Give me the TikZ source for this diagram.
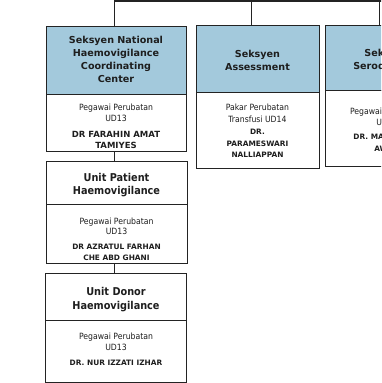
\documentclass[tikz,border=0pt]{standalone}
\usepackage{fontspec}
\setmainfont{DejaVu Sans}
\newfontfamily\condf{DejaVu Sans Condensed}
\definecolor{hdrblue}{RGB}{163,201,220}
\definecolor{ln}{RGB}{35,35,35}
\definecolor{txt}{RGB}{30,30,30}
\newcommand\namefont{\rmfamily\bfseries\fontsize{7.4}{11}\selectfont}
\newcommand\bignamefont{\rmfamily\bfseries\fontsize{8.5}{11}\selectfont}
\begin{document}
\begin{tikzpicture}[x=1pt,y=-1pt,
 box/.style={draw=ln, line width=1.4pt, anchor=north west, inner sep=0pt},
 hdr/.style={box, fill=hdrblue},
 bodybox/.style={box, fill=white},
 lbl/.style={inner sep=0pt, anchor=center, align=center, text=txt},
 hdrtext/.style={lbl, font=\bfseries\fontsize{9.6}{13}\selectfont},
 utext/.style={lbl, font=\condf\bfseries\fontsize{10.8}{13.3}\selectfont},
 btext/.style={lbl, font=\condf\fontsize{8.6}{11}\selectfont},
 wire/.style={draw=ln, line width=1.4pt}]
\useasboundingbox (0,0) rectangle (381,383);
\clip (0,0) rectangle (381,383);
\coordinate (topR) at (383,1);
% box outlines
\node[hdr, minimum width=140, minimum height=68] (h1) at (46,26) {};
\node[bodybox, minimum width=140, minimum height=57] (b1) at (46,94) {};
\node[hdr, minimum width=123, minimum height=67] (h2) at (196,25) {};
\node[bodybox, minimum width=123, minimum height=76] (b2) at (196,92) {};
\node[hdr, minimum width=124, minimum height=65] (h3) at (325,25) {};
\node[bodybox, minimum width=124, minimum height=76] (b3) at (325,90) {};
\node[bodybox, minimum width=141, minimum height=43] (h4) at (46,161) {};
\node[bodybox, minimum width=141, minimum height=59] (b4) at (46,204) {};
\node[bodybox, minimum width=141, minimum height=47] (h5) at (45,273) {};
\node[bodybox, minimum width=141, minimum height=62] (b5) at (45,320) {};
% texts
\node[hdrtext] (th1) at (116,59.5) {Seksyen National\\Haemovigilance\\Coordinating\\Center};
\node[btext] (tb1) at (116,126)
  {Pegawai Perubatan\\UD13\\[5pt]{\bignamefont DR FARAHIN AMAT}\\{\bignamefont TAMIYES}};
\node[hdrtext] (th2) at (257.5,60.5) {Seksyen\\Assessment};
\node[btext, font=\condf\fontsize{8.6}{11.8}\selectfont] (tb2) at (257.5,131)
  {Pakar Perubatan\\Transfusi UD14\\{\namefont DR.}\\{\namefont PARAMESWARI}\\{\namefont NALLIAPPAN}};
\node[hdrtext] (th3) at (387,60.5) {Seksyen\\Serod\phantom{iagnos}};
\node[btext] (tb3) at (387,129.5)
  {Pegawai Perubatan\\UD13\\[3.5pt]{\namefont DR. MA\phantom{ZLINAHA}}\\[1pt]{\namefont AW\phantom{AN}}};
\node[utext] (th4) at (116.5,185) {Unit Patient\\Haemovigilance};
\node[btext, font=\condf\fontsize{8.6}{10.5}\selectfont] (tb4) at (116.5,239)
  {Pegawai Perubatan\\UD13\\[4.5pt]{\namefont DR AZRATUL FARHAN}\\{\namefont CHE ABD GHANI}};
\node[utext, font=\condf\bfseries\fontsize{10.8}{14}\selectfont] (th5) at (116,300) {Unit Donor\\Haemovigilance};
\node[btext] (tb5) at (116,349)
  {Pegawai Perubatan\\UD13\\[4pt]{\namefont DR. NUR IZZATI IZHAR}};
% connectors
\draw[wire] ([xshift=-2pt]h1.north) |- (topR);
\draw[wire] ([xshift=-6.5pt]h2.north) -- ([xshift=-6.5pt]h2.north |- topR);
\draw[wire] ([xshift=-8pt]h3.north) -- ([xshift=-8pt]h3.north |- topR);
\draw[wire] ([xshift=-2pt]b1.south) -- ([xshift=-2pt]b1.south |- h4.north);
\draw[wire] ([xshift=-2.5pt]b4.south) -- ([xshift=-2.5pt]b4.south |- h5.north);
\end{tikzpicture}
\end{document}
